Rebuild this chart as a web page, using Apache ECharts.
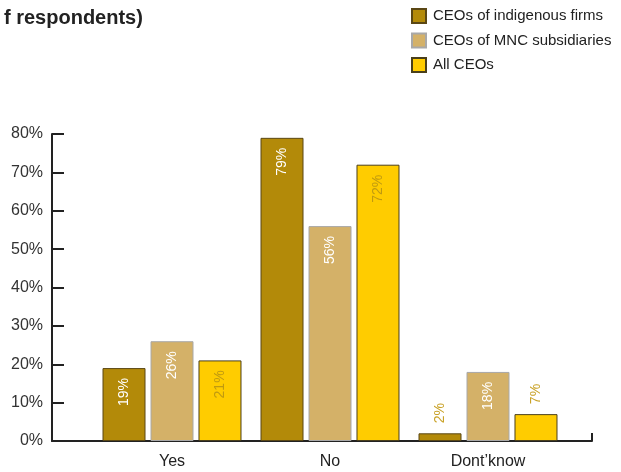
<!DOCTYPE html>
<html><head><meta charset="utf-8">
<script src="https://cdn.jsdelivr.net/npm/echarts@6/dist/echarts.min.js"></script>
<style>html,body{margin:0;padding:0;background:#fff}#c{width:621px;height:472px}</style>
</head><body><div id="c"></div>
<script>
const categories = ["Yes", "No", "Dont\u2019know"];
const seriesNames = ["CEOs of indigenous firms", "CEOs of MNC subsidiaries", "All CEOs"];
const indigenous = [19, 79, 2];
const mnc = [26, 56, 18];
const allCeos = [21, 72, 7];
const yTicks = [0, 10, 20, 30, 40, 50, 60, 70, 80];

const FONT = "Liberation Sans, Arial, Helvetica, sans-serif";
const colors = ["#B38A09", "#D4B168", "#FFCC00"];
const borders = ["#5A4714", "#A8A8A8", "#4A3F1A"];
const insideLabelColors = ["#FFFFFF", "#FFFFFF", "#C09A10"];
const outsideLabelColor = "#C9A227";

function buildData(values, idx) {
  return values.map(v => {
    if (v < 10) {
      return { value: v, label: { show: true, position: "top", rotate: 90, align: "left", verticalAlign: "middle", distance: 10, color: outsideLabelColor } };
    }
    return { value: v, label: { show: true, position: "insideTop", rotate: 90, align: "right", verticalAlign: "middle", distance: 10, color: insideLabelColors[idx] } };
  });
}

const allSeries = [indigenous, mnc, allCeos].map((vals, i) => ({
  name: seriesNames[i],
  type: "bar",
  xAxisIndex: 1,
  yAxisIndex: 1,
  barWidth: 43,
  barGap: "11.6%",
  data: buildData(vals, i),
  itemStyle: { color: colors[i], borderColor: borders[i], borderWidth: 1 },
  label: { fontSize: 14, fontFamily: FONT, formatter: "{c}%" }
}));

const chart = echarts.init(document.getElementById("c"));
chart.setOption({
  animation: false,
  textStyle: { fontFamily: FONT },
  title: {
    text: "f respondents)",
    left: -1, top: 3,
    textStyle: { fontSize: 20, fontWeight: "bold", color: "#222", fontFamily: FONT }
  },
  legend: {
    orient: "vertical",
    left: 411, top: 8, padding: 0,
    icon: "rect",
    itemWidth: 14, itemHeight: 14, itemGap: 8.5,
    data: seriesNames,
    textStyle: { fontSize: 15, color: "#222", fontFamily: FONT, padding: [0, 0, 0, 2] }
  },
  grid: [
    { left: 52, right: 29, top: 134, bottom: 31 },
    { left: 93, right: 54, top: 134, bottom: 31 }
  ],
  xAxis: [
    {
      gridIndex: 0, type: "value", min: 0, max: 1, interval: 1,
      axisLine: { show: true, lineStyle: { color: "#222", width: 2 } },
      axisTick: { show: true, inside: true, length: 8, lineStyle: { color: "#222", width: 2 } },
      axisLabel: { show: false }, splitLine: { show: false }
    },
    {
      gridIndex: 1, type: "category", data: categories,
      axisLine: { show: false }, axisTick: { show: false },
      axisLabel: { fontSize: 16, color: "#222", margin: 13, fontFamily: FONT }
    }
  ],
  yAxis: [
    {
      gridIndex: 0, type: "value", min: yTicks[0], max: yTicks[yTicks.length - 1], interval: 10,
      axisLine: { show: true, lineStyle: { color: "#222", width: 2 } },
      axisTick: { show: true, inside: true, length: 12, lineStyle: { color: "#222", width: 2 } },
      axisLabel: { fontSize: 16, color: "#333", margin: 9, formatter: "{value}%", fontFamily: FONT },
      splitLine: { show: false }
    },
    {
      gridIndex: 1, type: "value", min: yTicks[0], max: yTicks[yTicks.length - 1], interval: 10,
      show: false, splitLine: { show: false }
    }
  ],
  series: allSeries
});
</script></body></html>
